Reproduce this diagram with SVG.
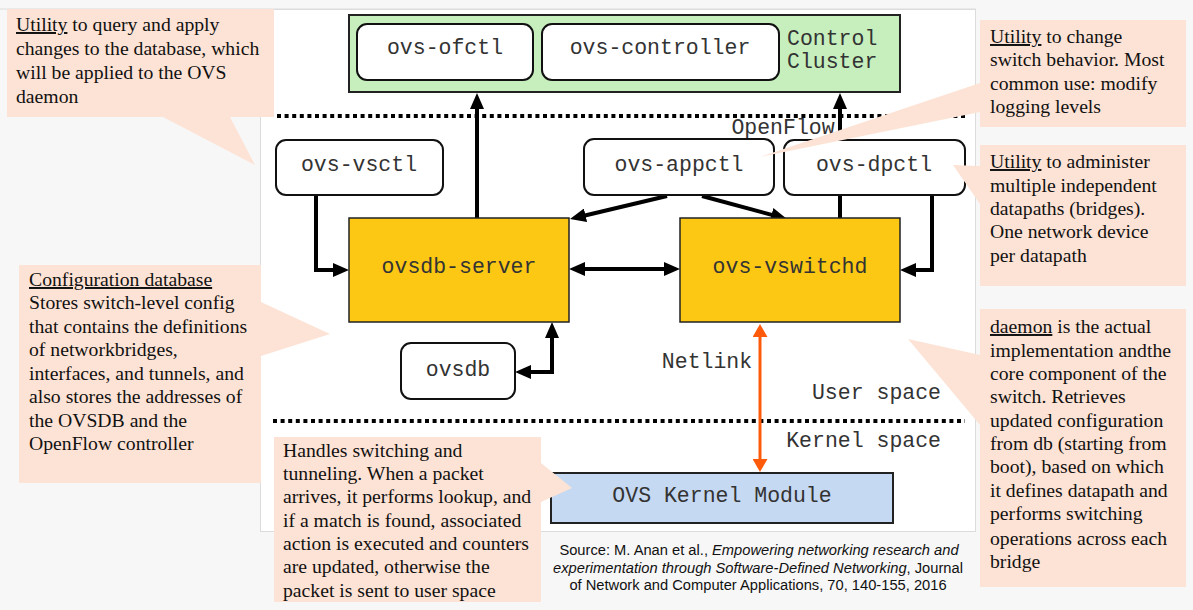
<svg xmlns="http://www.w3.org/2000/svg" width="1193" height="610" viewBox="0 0 1193 610">
<style>
.mono{font-family:"Liberation Mono","Courier New",monospace;font-size:21.5px;fill:#333;}
.box{fill:#fff;stroke:#111;stroke-width:2;}
.srv{fill:#fdc814;stroke:#222;stroke-width:1.5;}
.callout{fill:#fde3d5;}
.ct{font-family:"Liberation Serif","Times New Roman",serif;font-size:19.7px;fill:#111;}
.u{text-decoration:underline;}
.dot{stroke:#000;stroke-width:4;stroke-dasharray:4 3.6;fill:none;}
.conn{stroke:#000;stroke-width:4;fill:none;}
.src{font-family:"Liberation Sans",Arial,sans-serif;font-size:14.7px;fill:#111;}
</style>
<defs>
<marker id="ah" markerWidth="16" markerHeight="14" refX="6" refY="7" orient="auto-start-reverse" markerUnits="userSpaceOnUse"><path d="M0,0 L16,7 L0,14 z" fill="#000"/></marker>
<marker id="oh" markerWidth="13" markerHeight="15" refX="3" refY="7.5" orient="auto-start-reverse" markerUnits="userSpaceOnUse"><path d="M0,0 L13,7.5 L0,15 z" fill="#ff5a0a"/></marker>
</defs>
<rect x="0" y="0" width="1193" height="610" fill="#f7f7f7"/>
<line x1="0" y1="9" x2="976" y2="9" stroke="#dcdcdc" stroke-width="1"/>
<rect x="260.5" y="9.5" width="715" height="522" fill="#fff" stroke="#dcdcdc" stroke-width="1"/>

<g id="control-cluster">
<rect x="349" y="15" width="551" height="77" fill="#c6efbd" stroke="#222" stroke-width="2"/>
<text class="mono" x="787" y="45">Control</text>
<text class="mono" x="787" y="68">Cluster</text>
</g>
<line class="dot" x1="277" y1="116" x2="965" y2="116"/>
<line class="dot" x1="273" y1="421" x2="965" y2="421"/>

<g id="connectors">
<path class="conn" d="M477,218 V103" marker-end="url(#ah)"/>
<path class="conn" d="M840,218 V103" marker-end="url(#ah)"/>
<path class="conn" d="M316,195 V270 H339" marker-end="url(#ah)"/>
<path class="conn" d="M932,195 V270 H910" marker-end="url(#ah)"/>
<path class="conn" d="M579,269 H670" marker-start="url(#ah)" marker-end="url(#ah)"/>
<path class="conn" d="M525,372 H552 V332" marker-start="url(#ah)" marker-end="url(#ah)"/>
<path class="conn" d="M667,196 L579.7,216.7" marker-end="url(#ah)"/>
<path class="conn" d="M702,196 L777.3,216.4" marker-end="url(#ah)"/>
<path d="M760,334 V462" stroke="#ff5a0a" stroke-width="3" fill="none" marker-start="url(#oh)" marker-end="url(#oh)"/>
</g>

<g id="ovs-ofctl"><rect class="box" x="357" y="24" width="176" height="56" rx="10"/><text class="mono" x="445" y="54" text-anchor="middle">ovs-ofctl</text></g>
<g id="ovs-controller"><rect class="box" x="542" y="24" width="237" height="56" rx="10"/><text class="mono" x="660" y="54" text-anchor="middle">ovs-controller</text></g>
<g id="openflow-label"><text class="mono" x="783" y="134" text-anchor="middle">OpenFlow</text></g>
<g id="ovs-vsctl"><rect class="box" x="276" y="140" width="167" height="55" rx="10"/><text class="mono" x="359" y="171" text-anchor="middle">ovs-vsctl</text></g>
<g id="ovs-appctl"><rect class="box" x="584" y="139" width="190" height="56" rx="10"/><text class="mono" x="679" y="171" text-anchor="middle">ovs-appctl</text></g>
<g id="ovs-dpctl"><rect class="box" x="784" y="140" width="181" height="55" rx="10"/><text class="mono" x="874" y="171" text-anchor="middle">ovs-dpctl</text></g>
<g id="ovsdb-server"><rect class="srv" x="349" y="218" width="220" height="104"/><text class="mono" x="459" y="273" text-anchor="middle">ovsdb-server</text></g>
<g id="ovs-vswitchd"><rect class="srv" x="680" y="218" width="220" height="104"/><text class="mono" x="790" y="273" text-anchor="middle">ovs-vswitchd</text></g>
<g id="ovsdb"><rect class="box" x="401" y="343" width="114" height="56" rx="10"/><text class="mono" x="458" y="376" text-anchor="middle">ovsdb</text></g>
<g id="netlink-label"><text class="mono" x="707" y="368" text-anchor="middle">Netlink</text></g>
<g id="space-labels">
<text class="mono" x="941" y="399" text-anchor="end">User space</text>
<text class="mono" x="941" y="447" text-anchor="end">Kernel space</text>
</g>
<g id="ovs-kernel-module"><rect x="551" y="473" width="342" height="50" fill="#c6d9f2" stroke="#222" stroke-width="2"/><text class="mono" x="722" y="502" text-anchor="middle">OVS Kernel Module</text></g>

<g id="callout-vsctl">
<path class="callout" d="M7,9 H274 V117 H230 L255,165 L163,117 H7 Z"/>
<text class="ct" x="16" y="31"><tspan class="u">Utility</tspan> to query and apply</text>
<text class="ct" x="16" y="55">changes to the database, which</text>
<text class="ct" x="16" y="79">will be applied to the OVS</text>
<text class="ct" x="16" y="103">daemon</text>
</g>
<g id="callout-ovsdb">
<path class="callout" d="M19,265 H261 V302 L330,334 L261,356 V483 H19 Z"/>
<text class="ct" x="29" y="286"><tspan class="u">Configuration database</tspan></text>
<text class="ct" x="29" y="309">Stores switch-level config</text>
<text class="ct" x="29" y="333">that contains the definitions</text>
<text class="ct" x="29" y="356">of networkbridges,</text>
<text class="ct" x="29" y="380">interfaces, and tunnels, and</text>
<text class="ct" x="29" y="403">also stores the addresses of</text>
<text class="ct" x="29" y="427">the OVSDB and the</text>
<text class="ct" x="29" y="450">OpenFlow controller</text>
</g>
<g id="callout-appctl">
<path class="callout" d="M980,20 H1186 V127 H980 V112 L760,157 L980,83 Z"/>
<text class="ct" x="990" y="43"><tspan class="u">Utility</tspan> to change</text>
<text class="ct" x="990" y="66">switch behavior. Most</text>
<text class="ct" x="990" y="90">common use: modify</text>
<text class="ct" x="990" y="113">logging levels</text>
</g>
<g id="callout-dpctl">
<path class="callout" d="M980,145 H1186 V286 H980 V204 L953,165 L980,166 Z"/>
<text class="ct" x="990" y="168"><tspan class="u">Utility</tspan> to administer</text>
<text class="ct" x="990" y="192">multiple independent</text>
<text class="ct" x="990" y="215">datapaths (bridges).</text>
<text class="ct" x="990" y="238">One network device</text>
<text class="ct" x="990" y="262">per datapath</text>
</g>
<g id="callout-vswitchd">
<path class="callout" d="M980,309 H1186 V587 H980 V425 L908,339 L980,355 Z"/>
<text class="ct" x="990" y="333"><tspan class="u">daemon</tspan> is the actual</text>
<text class="ct" x="990" y="357">implementation andthe</text>
<text class="ct" x="990" y="380">core component of the</text>
<text class="ct" x="990" y="403">switch. Retrieves</text>
<text class="ct" x="990" y="427">updated configuration</text>
<text class="ct" x="990" y="450">from db (starting from</text>
<text class="ct" x="990" y="473">boot), based on which</text>
<text class="ct" x="990" y="497">it defines datapath and</text>
<text class="ct" x="990" y="520">performs switching</text>
<text class="ct" x="990" y="545">operations across each</text>
<text class="ct" x="990" y="568">bridge</text>
</g>
<g id="callout-kernel">
<path class="callout" d="M274,437 H541 V463 L572,488 L541,502 V602 H274 Z"/>
<text class="ct" x="283" y="457">Handles switching and</text>
<text class="ct" x="283" y="480">tunneling. When a packet</text>
<text class="ct" x="283" y="503">arrives, it performs lookup, and</text>
<text class="ct" x="283" y="527">if a match is found, associated</text>
<text class="ct" x="283" y="550">action is executed and counters</text>
<text class="ct" x="283" y="573">are updated, otherwise the</text>
<text class="ct" x="283" y="597">packet is sent to user space</text>
</g>
<g id="source">
<text class="src" x="759" y="555" text-anchor="middle">Source: M. Anan et al., <tspan font-style="italic">Empowering networking research and</tspan></text>
<text class="src" x="758" y="573" text-anchor="middle"><tspan font-style="italic">experimentation through Software-Defined Networking</tspan>, Journal</text>
<text class="src" x="758" y="590" text-anchor="middle">of Network and Computer Applications, 70, 140-155, 2016</text>
</g>
</svg>
